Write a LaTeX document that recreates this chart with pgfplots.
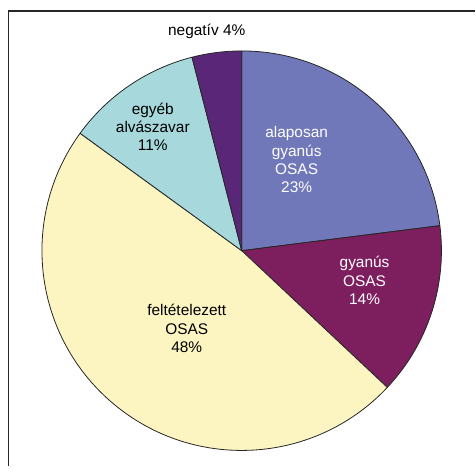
\documentclass[border=0pt]{standalone}
\usepackage{pgfplots}
\pgfplotsset{compat=1.18}
\usepackage{pgfplotstable}
\usepackage{fontspec}
\setmainfont{Liberation Sans}
\definecolor{cA}{RGB}{112,120,185}
\definecolor{cB}{RGB}{125,31,95}
\definecolor{cC}{RGB}{252,245,193}
\definecolor{cD}{RGB}{166,216,220}
\definecolor{cE}{RGB}{90,38,120}
\pgfplotstableread[col sep=comma]{
name,value
alaposan gyanus OSAS,23
gyanus OSAS,14
feltetelezett OSAS,48
egyeb alvaszavar,11
negativ,4
}\piedata

\begin{document}
\begin{tikzpicture}
\pgfplotstablegetelem{0}{value}\of\piedata \pgfmathsetmacro\aB{90-3.6*\pgfplotsretval}
\pgfplotstablegetelem{1}{value}\of\piedata \pgfmathsetmacro\aC{\aB-3.6*\pgfplotsretval}
\pgfplotstablegetelem{2}{value}\of\piedata \pgfmathsetmacro\aD{\aC-3.6*\pgfplotsretval}
\pgfplotstablegetelem{3}{value}\of\piedata \pgfmathsetmacro\aE{\aD-3.6*\pgfplotsretval}
\pgfplotstablegetelem{4}{value}\of\piedata \pgfmathsetmacro\aF{\aE-3.6*\pgfplotsretval}
\begin{axis}[scale only axis, width=476bp, height=467bp,
  xmin=0, xmax=476, ymin=0, ymax=467, hide axis, clip=false]
\path (axis cs:0,0) rectangle (axis cs:476,467);
\draw[line width=1.2pt, black!85] (axis cs:8.5,0) -- (axis cs:8.5,456) -- (axis cs:476,456);
\tikzset{wedge/.style={draw=black!85, line width=0.8pt, line join=round}}
\filldraw[wedge, fill=cA] (axis cs:242,216) -- ++(90:200bp) arc[start angle=90, end angle=\aB, radius=200bp] -- cycle;
\filldraw[wedge, fill=cB] (axis cs:242,216) -- ++(\aB:200bp) arc[start angle=\aB, end angle=\aC, radius=200bp] -- cycle;
\filldraw[wedge, fill=cC] (axis cs:242,216) -- ++(\aC:200bp) arc[start angle=\aC, end angle=\aD, radius=200bp] -- cycle;
\filldraw[wedge, fill=cD] (axis cs:242,216) -- ++(\aD:200bp) arc[start angle=\aD, end angle=\aE, radius=200bp] -- cycle;
\filldraw[wedge, fill=cE] (axis cs:242,216) -- ++(\aE:200bp) arc[start angle=\aE, end angle=\aF, radius=200bp] -- cycle;
\tikzset{lbl/.style={align=center, inner sep=0pt, font=\fontsize{15.5}{18.5}\selectfont}}
\node[lbl] at (axis cs:207,436) {negatív 4\%};
\node[lbl] at (axis cs:153,340) {egyéb\\alvászavar\\11\%};
\node[lbl, text=white] at (axis cs:297,307) {alaposan\\gyanús\\OSAS\\23\%};
\node[lbl, text=white] at (axis cs:365,186) {gyanús\\OSAS\\14\%};
\node[lbl] at (axis cs:187,138) {feltételezett\\OSAS\\48\%};
\end{axis}
\end{tikzpicture}
\end{document}
